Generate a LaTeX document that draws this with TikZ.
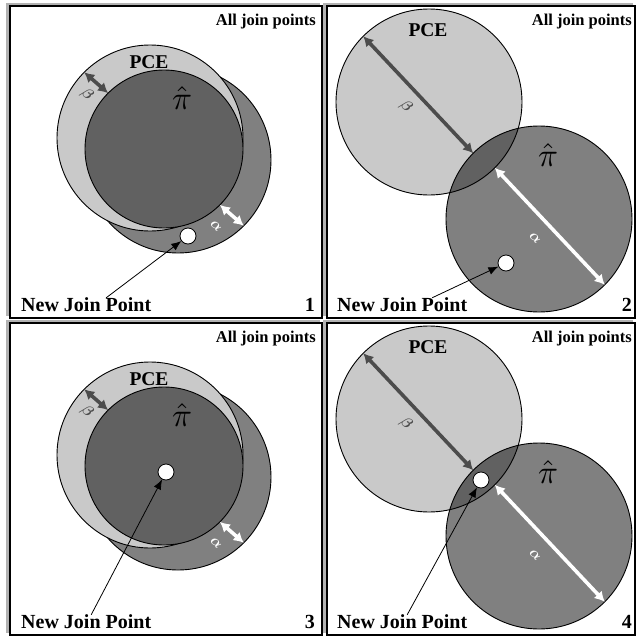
\documentclass[tikz,border=0pt]{standalone}
\usepackage{fontspec}
\setmainfont{Liberation Serif}
\usepackage{tikz}
\usetikzlibrary{calc}
\usetikzlibrary{arrows.meta}
\definecolor{pcegray}{gray}{0.79}
\definecolor{pigray}{gray}{0.50}
\definecolor{coregray}{gray}{0.38}
\definecolor{betagray}{gray}{0.30}
\tikzset{
  ring/.style={draw=black, line width=0.9pt},
  dimarrow/.style={line width=3.6pt, {Latex[length=10pt,width=11pt]}-{Latex[length=10pt,width=11pt]}},
  greek/.style={font=\boldmath, scale=1.5, inner sep=0pt},
  pcelabel/.style={font=\bfseries\fontsize{19.5}{20}\selectfont, inner sep=0pt},
  pilabel/.style={scale=3.3, inner sep=0pt},
  joinpt/.style={shape=circle, draw=black, fill=white, line width=0.8pt, minimum size=16pt, inner sep=0pt},
  caption/.style={font=\bfseries\fontsize{20}{20}\selectfont, inner sep=0pt},
  header/.style={font=\bfseries\fontsize{16.5}{17}\selectfont, inner sep=0pt},
  pointer/.style={line width=0.8pt, -{Latex[length=10pt,width=8pt]}}
}
\newcommand{\frm}[4]{ \fill[black!30] (#1-4,#2-3) rectangle (#3-2,#4-2);
  \fill[white] (#1,#2) rectangle (#3,#4);
  \draw[line width=1.2pt] (#1,#2) rectangle (#3,#4);}
% the overlapping pair of panels 1 and 3
\newcommand{\nearpair}[1]{
  \coordinate (pi#1) at (178,160);
  \coordinate (pce#1) at (150,138);
  \coordinate (core#1) at (164,149);
  \draw[ring, fill=pigray] (pi#1) circle (93);
  \draw[ring, fill=pcegray] (pce#1) circle (93);
  \draw[ring, fill=coregray] (core#1) circle (79);
  \draw[dimarrow, betagray] ($(pce#1)+(225:93)$) -- ($(core#1)+(225:79)$);
  \draw[dimarrow, white] ($(core#1)+(45:79)$) -- ($(pi#1)+(45:93)$);
  \node[greek, betagray, rotate=-45] (b#1) at (87,95) {$\beta$};
  \node[greek, white, rotate=-45] (a#1) at (216,226) {$\alpha$};
  \node[pcelabel] (pcel#1) at (149,62) {PCE};
  \node[pilabel] (pil#1) at (182,98) {$\hat{\pi}$};}
% the far pair of panels 2 and 4
\newcommand{\farpair}[1]{
  \coordinate (pce#1) at (429,102);
  \coordinate (pi#1) at (539,219);
  \fill[pcegray] (pce#1) circle (93);
  \fill[pigray] (pi#1) circle (93);
  \begin{scope}
    \clip (pce#1) circle (93);
    \fill[coregray] (pi#1) circle (93);
  \end{scope}
  \draw[ring] (pce#1) circle (93);
  \draw[ring] (pi#1) circle (93);
  \draw[dimarrow, betagray] ($(pce#1)+(225:93)$) -- ($(pi#1)+(225:93)$);
  \draw[dimarrow, white] ($(pce#1)+(45:93)$) -- ($(pi#1)+(45:93)$);
  \node[greek, betagray, rotate=-45] (b#1) at (406,107) {$\beta$};
  \node[greek, white, rotate=-45] (a#1) at (535,238) {$\alpha$};
  \node[pcelabel] (pcel#1) at (428,30) {PCE};
  \node[pilabel] (pil#1) at (548,155) {$\hat{\pi}$};}

\begin{document}
\begin{tikzpicture}[x=1pt, y=-1pt]
\useasboundingbox (0,0) rectangle (637,640);
% panel 1
\frm{10}{6}{322}{318}
\nearpair{1}
\node[joinpt] (jp1) at (188,236) {};
\node[caption, anchor=west] (new1) at (21,305) {New Join Point};
\node[caption, anchor=east] (no1) at (315,305) {1};
\node[header, anchor=east] (all1) at (316,22) {All join points};
\draw[pointer] ([xshift=20pt]new1.north) -- (jp1);
% panel 2
\frm{327}{6}{635}{318}
\farpair{2}
\node[joinpt] (jp2) at (506,263) {};
\node[caption, anchor=west] (new2) at (337,305) {New Join Point};
\node[caption, anchor=east] (no2) at (632,305) {2};
\node[header, anchor=east] (all2) at (632,22) {All join points};
\draw[pointer] ([xshift=30pt]new2.north) -- (jp2);
% panel 3
\begin{scope}[shift={(0,317)}]
\frm{10}{6}{322}{318}
\nearpair{3}
\node[joinpt] (jp3) at (166,155) {};
\node[caption, anchor=west] (new3) at (21,305) {New Join Point};
\node[caption, anchor=east] (no3) at (315,305) {3};
\node[header, anchor=east] (all3) at (316,22) {All join points};
\draw[pointer] ([xshift=5pt]new3.north) -- (jp3);
\end{scope}
% panel 4
\begin{scope}[shift={(0,317)}]
\frm{327}{6}{635}{318}
\farpair{4}
\node[joinpt] (jp4) at (481,163) {};
\node[caption, anchor=west] (new4) at (337,305) {New Join Point};
\node[caption, anchor=east] (no4) at (632,305) {4};
\node[header, anchor=east] (all4) at (632,22) {All join points};
\draw[pointer] ([xshift=5pt]new4.north) -- (jp4);
\end{scope}
\end{tikzpicture}
\end{document}
